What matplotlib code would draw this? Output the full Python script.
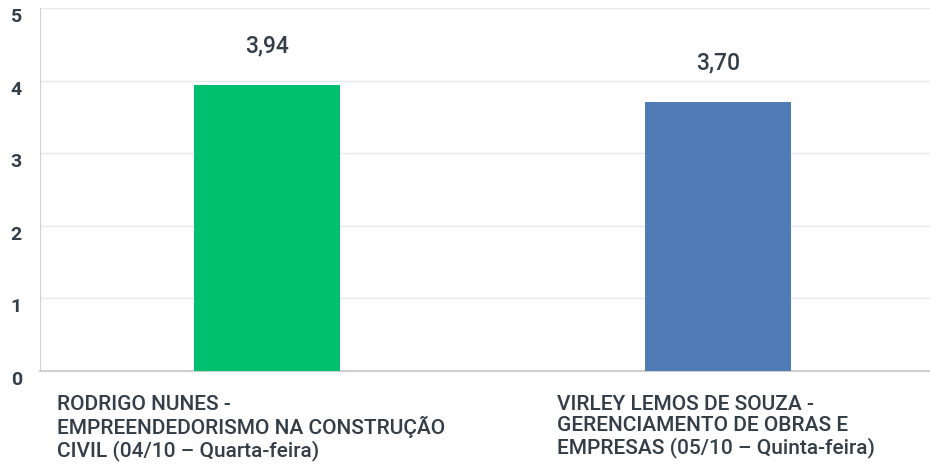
import matplotlib
matplotlib.use("Agg")
import matplotlib.pyplot as plt
from matplotlib.transforms import ScaledTranslation

categories = ["RODRIGO NUNES -\nEMPREENDEDORISMO NA CONSTRUÇÃO\nCIVIL (04/10 – Quarta-feira)",
              "VIRLEY LEMOS DE SOUZA -\nGERENCIAMENTO DE OBRAS E\nEMPRESAS (05/10 – Quinta-feira)"]
values = [3.94, 3.70]
value_labels = ["3,94", "3,70"]
colors = ["#00BF6F", "#507CB6"]
yticks = [0, 1, 2, 3, 4, 5]

plt.rcParams['font.family'] = ['Roboto', 'DejaVu Sans']
txt = "#333E48"

fig = plt.figure(figsize=(9.3, 4.66), dpi=100)
ax = fig.add_axes([40/930, 95/466, 890/930, 363/466])
x = list(range(len(values)))
ax.bar(x, values, width=0.324, color=colors, zorder=3)
ax.set_xlim(-0.503, 1.47)
ax.set_ylim(0, 5)
ax.set_yticks(yticks)
ax.set_yticklabels([str(t) for t in yticks], fontsize=14, fontweight='bold', color=txt)
ax.tick_params(axis='y', length=0, pad=13)
off = ScaledTranslation(0, -7/100, fig.dpi_scale_trans)
for lab in ax.get_yticklabels():
    lab.set_transform(lab.get_transform() + off)
ax.set_xticks([])
ax.grid(axis='y', color='#E8E8E8', linewidth=1, zorder=0)
for s in ['top', 'right']:
    ax.spines[s].set_visible(False)
ax.spines['left'].set_color('#CFCFCF')
ax.spines['bottom'].set_color('#CFCFCF')
ax.spines['bottom'].set_linewidth(1.5)

for xi, v, lab in zip(x, values, value_labels):
    ax.annotate(lab, (xi, v), xytext=(0, 20), textcoords='offset points',
                ha='center', va='bottom', fontsize=16.5, fontweight='medium', color=txt)

label_x = [17/890, 517/890]
for lx, c in zip(label_x, categories):
    ax.text(lx, -0.066, c, transform=ax.transAxes, ha='left', va='top',
            fontsize=15, fontweight='medium', color=txt, linespacing=1.13)

fig.savefig("out.png", dpi=100)
